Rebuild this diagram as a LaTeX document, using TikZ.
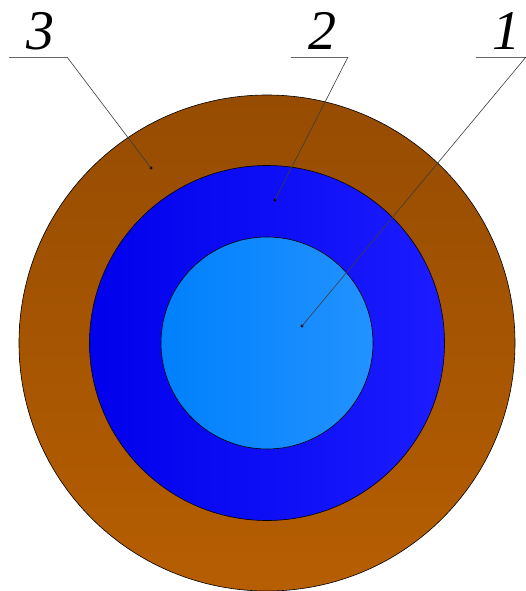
\documentclass[tikz,border=0pt]{standalone}
\usepackage{fontspec}
\setmainfont{Liberation Serif}
\usetikzlibrary{positioning}
\definecolor{shelltop}{RGB}{150,76,2}
\definecolor{shellbot}{RGB}{182,94,2}
\definecolor{jacketleft}{RGB}{0,0,236}
\definecolor{jacketright}{RGB}{28,28,255}
\definecolor{coreleft}{RGB}{0,128,252}
\definecolor{coreright}{RGB}{34,146,255}
\definecolor{leadergray}{RGB}{60,60,60}
\tikzset{
  layer/.style={circle, draw=black, line width=0.6pt, inner sep=0pt},
  numlabel/.style={font=\fontsize{56pt}{56pt}\selectfont\itshape, inner sep=0pt, anchor=base},
  underline/.style={draw=gray!80!black, line width=0.9pt},
  leader/.style={draw=leadergray, line width=0.6pt},
  pin/.style={fill=black},
}
\begin{document}
\begin{tikzpicture}[x=1pt, y=-1pt]
\useasboundingbox (0,0) rectangle (526,591);

%% ── three concentric layers ─────────────────────────────
\node[layer, minimum size=496pt, top color=shelltop, bottom color=shellbot] (outer) at (267,343) {};
\node[layer, minimum size=355pt, left color=jacketleft, right color=jacketright] (middle) at (267,343) {};
\node[layer, minimum size=212pt, left color=coreleft, right color=coreright] (inner) at (267,343) {};

%% ── leader end points inside each layer ─────────────────
\coordinate (p3) at (151,168);
\coordinate (p2) at (275,200);
\coordinate (p1) at (302,326);
\foreach \p in {p1, p2, p3}
  \fill[pin] (\p) circle (1.6pt);

%% ── numbered callouts ───────────────────────────────────
\node[numlabel] (lab3) at (40,50) {3};
\node[numlabel] (lab2) at (322,50) {2};
\node[numlabel] (lab1) at (506,50) {1};

\coordinate (u3a) at (9,57);   \coordinate (u3b) at (67,57);
\coordinate (u2a) at (291,57); \coordinate (u2b) at (348,57);
\coordinate (u1a) at (476,57); \coordinate (u1b) at (526,57);

\draw[underline] (u3a) -- (u3b);
\draw[underline] (u2a) -- (u2b);
\draw[underline] (u1a) -- (u1b);

\draw[leader] (u3b) -- (p3);
\draw[leader] (u2b) -- (p2);
\draw[leader] (u1b) -- (p1);

\end{tikzpicture}
\end{document}
